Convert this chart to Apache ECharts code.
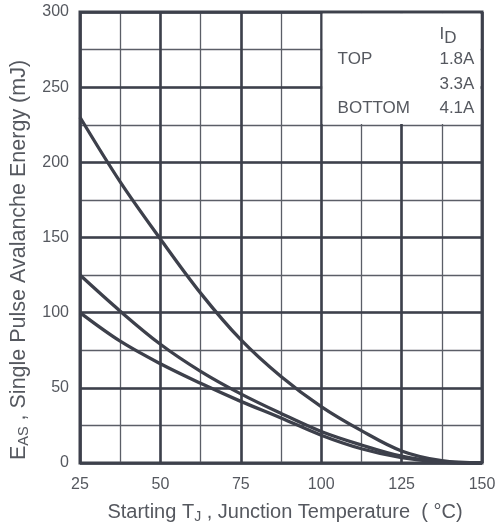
<!DOCTYPE html>
<html>
<head>
<meta charset="utf-8">
<script src="https://cdn.jsdelivr.net/npm/echarts@6/dist/echarts.min.js"></script>
<style>
  html, body { margin: 0; padding: 0; background: #fff; }
  #main { width: 500px; height: 529px; }
</style>
</head>
<body>
<div id="main"></div>
<script>
// 横轴: 起始结温 (°C)
var temps = [25, 37.5, 50, 62.5, 75, 87.5, 100, 112.5, 125, 137.5, 150];
// 三条曲线, 单位 mJ (从图上读的)
var eas18 = [230, 187, 149, 113, 82, 57.5, 37.5, 21.5, 8, 1.5, 0];
var eas33 = [125, 101, 79, 61, 46, 33, 21, 12, 4.5, 0.8, 0];
var eas41 = [100, 81, 66, 53, 41, 30, 18.5, 9.5, 3.5, 0.6, 0];
var currents = ['1.8A', '3.3A', '4.1A'];

var ink = '#3d404b';
var txt = '#55585f';
var font = '"Liberation Sans", Arial, sans-serif';

function pairs(ys) {
  return temps.map(function (t, i) { return [t, ys[i]]; });
}

function curve(name, ys) {
  return {
    name: name,
    type: 'line',
    data: pairs(ys),
    smooth: 0.35,
    showSymbol: false,
    lineStyle: { color: ink, width: 3.3 },
    z: 5
  };
}

var myChart = echarts.init(document.getElementById('main'));

var option = {
  animation: false,
  backgroundColor: '#fff',
  grid: {
    left: 80, right: 18, top: 12, bottom: 66,
    outerBoundsMode: 'none', containLabel: false,
    show: true, borderColor: ink, borderWidth: 3, backgroundColor: 'transparent'
  },
  xAxis: [
    {
      type: 'value', min: 25, max: 150, interval: 25,
      axisLine: { show: false }, axisTick: { show: false },
      axisLabel: { color: txt, fontSize: 16, fontFamily: font, margin: 14 },
      splitLine: { show: true, lineStyle: { color: ink, width: 2.6 } },
      name: '{n|Starting T}{s|J}{n| , Junction Temperature  ( °C)}',
      nameLocation: 'middle', nameGap: 37,
      nameTextStyle: {
        padding: [0, 0, 0, 8],
        rich: {
          n: { fontSize: 20, color: txt, fontFamily: font, lineHeight: 24 },
          s: { fontSize: 14, color: txt, fontFamily: font, lineHeight: 24, padding: [10, 0, 0, 0] }
        }
      },
      z: 1
    },
    {
      type: 'value', min: 25, max: 150, interval: 12.5, position: 'bottom',
      axisLine: { show: false }, axisTick: { show: false }, axisLabel: { show: false },
      splitLine: { show: true, lineStyle: { color: '#5b5e67', width: 1.3 } },
      z: 0
    }
  ],
  yAxis: [
    {
      type: 'value', min: 0, max: 300, interval: 50,
      axisLine: { show: false }, axisTick: { show: false },
      axisLabel: { color: txt, fontSize: 16, fontFamily: font, margin: 11 },
      splitLine: { show: true, lineStyle: { color: ink, width: 2.6 } },
      name: '{n|E}{s|AS}{n| , Single Pulse Avalanche Energy (mJ)}',
      nameLocation: 'middle', nameGap: 46,
      nameTextStyle: {
        padding: [0, 45, 0, 0],
        rich: {
          n: { fontSize: 21.5, color: txt, fontFamily: font, lineHeight: 24 },
          s: { fontSize: 14.5, color: txt, fontFamily: font, lineHeight: 24, padding: [10, 0, 0, 0] }
        }
      },
      z: 1
    },
    {
      type: 'value', min: 0, max: 300, interval: 25, position: 'left',
      axisLine: { show: false }, axisTick: { show: false }, axisLabel: { show: false },
      splitLine: { show: true, lineStyle: { color: '#5b5e67', width: 1.3 } },
      z: 0
    }
  ],
  series: [
    curve(currents[0], eas18),
    curve(currents[1], eas33),
    curve(currents[2], eas41)
  ]
};
myChart.setOption(option);

// 右上角的说明框, 用坐标换算出位置, 盖住下面的网格线
var p0 = myChart.convertToPixel({ xAxisIndex: 0, yAxisIndex: 0 }, [100, 300]);
var p1 = myChart.convertToPixel({ xAxisIndex: 0, yAxisIndex: 0 }, [150, 225]);
var bx = p0[0] + 1.4, by = p0[1] + 1.6;
var bw = p1[0] - 1.6 - bx, bh = p1[1] - 0.8 - by;
var ts = { fill: txt, fontSize: 17, fontFamily: font };

function label(text, x, y, align) {
  return {
    type: 'text', z: 20,
    style: Object.assign({ text: text, x: x, y: y, align: align || 'left', verticalAlign: 'middle' }, ts)
  };
}

myChart.setOption({
  graphic: [
    { type: 'rect', z: 10, shape: { x: bx, y: by, width: bw, height: bh }, style: { fill: '#fff' } },
    {
      type: 'text', z: 20,
      style: {
        x: bx + 117, y: by + 31, align: 'left', verticalAlign: 'bottom',
        text: '{n|I}{s|D}',
        rich: {
          n: { fontSize: 17, fill: txt, fontFamily: font, lineHeight: 20 },
          s: { fontSize: 17, fill: txt, fontFamily: font, lineHeight: 20, padding: [8, 0, 0, 0] }
        }
      }
    },
    label('TOP', bx + 15, by + 46),
    label(currents[0], bx + bw - 6, by + 46, 'right'),
    label(currents[1], bx + bw - 6, by + 71, 'right'),
    label('BOTTOM', bx + 15, by + 95),
    label(currents[2], bx + bw - 6, by + 95, 'right')
  ]
});
</script>
</body>
</html>
